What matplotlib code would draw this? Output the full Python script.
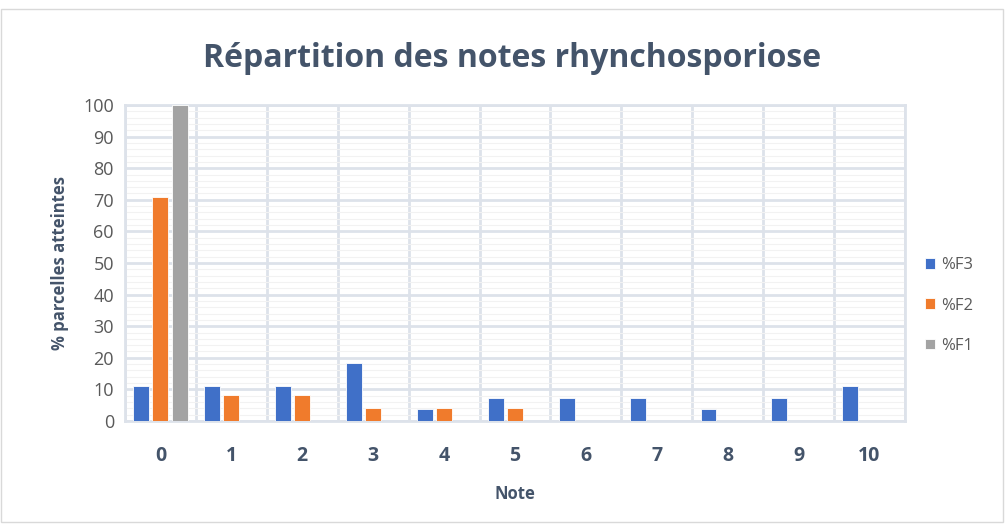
import numpy as np
import matplotlib.pyplot as plt
from matplotlib.patches import Rectangle

plt.rcParams['font.family'] = ['Open Sans', 'DejaVu Sans']

notes = ['0', '1', '2', '3', '4', '5', '6', '7', '8', '9', '10']
f3 = [11.1, 11.1, 11.1, 18.5, 3.7, 7.4, 7.4, 7.4, 3.7, 7.4, 11.1]
f2 = [70.8, 8.3, 8.3, 4.2, 4.2, 4.2, 0, 0, 0, 0, 0]
f1 = [100, 0, 0, 0, 0, 0, 0, 0, 0, 0, 0]
series = ['%F3', '%F2', '%F1']
colors = ['#4070C8', '#F07B2C', '#A3A3A3']

fig = plt.figure(figsize=(10.05, 5.24), dpi=100)
ax = fig.add_axes([0.1244, 0.1966, 0.776, 0.6030])

x = np.arange(len(notes))
w = 0.225
for i, (vals, lab, c) in enumerate(zip([f3, f2, f1], series, colors)):
    v = np.array(vals, dtype=float)
    ax.bar(x + (i - 1) * 0.27, np.where(v > 0, v, np.nan), w, color=c, label=lab,
           edgecolor='white', linewidth=0.6, zorder=3)

ax.set_xlim(-0.5, 10.5)
ax.set_ylim(0, 100)
ax.set_yticks(np.arange(0, 101, 10))
ax.set_yticks(np.arange(0, 101, 2), minor=True)
ax.set_xticks(x)
ax.set_xticks(np.arange(-0.5, 11, 1), minor=True)
ax.set_xticklabels(notes, fontsize=14, fontweight='bold', color='#44546A')
ax.tick_params(axis='y', which='major', labelsize=13, colors='#595959', length=0, pad=8)
ax.tick_params(axis='x', which='major', length=0, pad=18)
ax.tick_params(which='minor', length=0)

ax.grid(True, axis='y', which='major', color='#DDE2EA', linewidth=2, zorder=0)
ax.grid(True, axis='y', which='minor', color='#F2F2F2', linewidth=0.8, zorder=0)
ax.grid(True, axis='x', which='minor', color='#DDE2EA', linewidth=2, zorder=0)
ax.grid(False, axis='x', which='major')
for s in ax.spines.values():
    s.set_color('#DDE2EA')
    s.set_linewidth(2)

ax.set_xlabel('Note', fontsize=12, fontweight='bold', color='#44546A', labelpad=14)
ax.set_ylabel('% parcelles atteintes', fontsize=12, fontweight='bold', color='#44546A', labelpad=10)

fig.suptitle('Répartition des notes rhynchosporiose', x=0.51, y=0.92,
             fontsize=23, fontweight='bold', color='#44546A')

leg = ax.legend(loc='center left', bbox_to_anchor=(1.0, 0.365), frameon=False,
                fontsize=12, handlelength=0.6, handleheight=0.6, labelspacing=1.45,
                handletextpad=0.4, borderaxespad=0.8)
for t in leg.get_texts():
    t.set_color('#595959')

fig.patches.append(Rectangle((0.001, 0.003), 0.997, 0.98, transform=fig.transFigure,
                             fill=False, edgecolor='#D9D9D9', linewidth=1))

fig.savefig('out.png', dpi=100)
